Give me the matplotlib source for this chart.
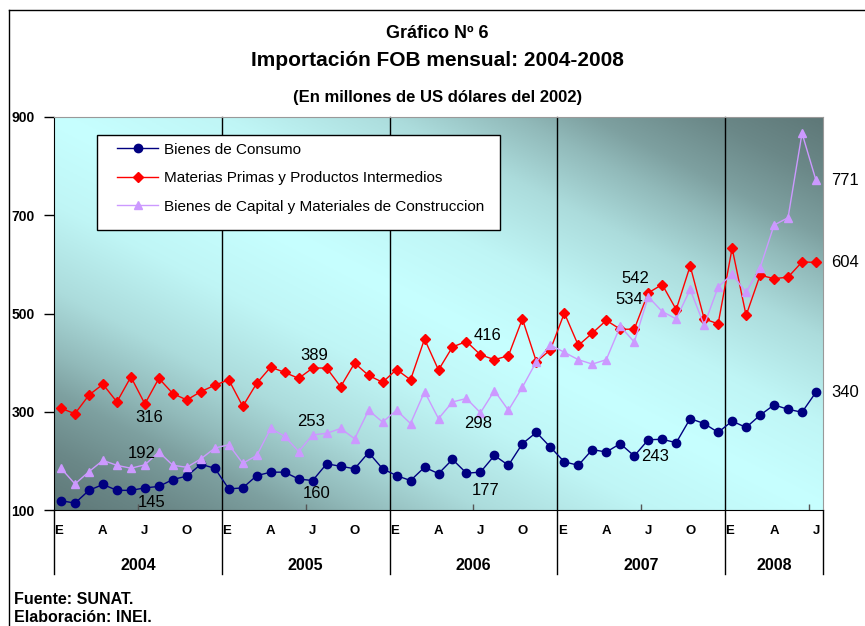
import matplotlib
matplotlib.use("Agg")
import matplotlib.pyplot as plt
import matplotlib.transforms as mtransforms
import numpy as np
from matplotlib.patches import Rectangle

plt.rcParams["font.family"] = ["Liberation Sans", "DejaVu Sans"]

# months shown per year (2008 ends in July)
years = ["2004", "2005", "2006", "2007", "2008"]
months_per_year = [12, 12, 12, 12, 7]
month_letters = {0: "E", 3: "A", 6: "J", 9: "O"}  # enero, abril, julio, octubre

# millones de US$ de 2002, enero 2004 - julio 2008
consumo = [119, 114, 140, 152, 140, 140, 145, 148, 162, 169, 193, 185,
           143, 145, 170, 177, 177, 163, 160, 194, 189, 184, 217, 184,
           170, 160, 187, 174, 203, 175, 177, 211, 191, 235, 258, 228,
           198, 191, 223, 218, 235, 210, 243, 244, 237, 286, 276, 258,
           281, 268, 293, 314, 305, 299, 340]
materias = [307, 296, 334, 356, 320, 371, 316, 368, 337, 324, 341, 354,
            365, 311, 358, 391, 380, 368, 389, 389, 351, 399, 374, 360,
            386, 365, 448, 385, 432, 443, 416, 406, 414, 489, 402, 426,
            501, 435, 460, 486, 468, 468, 542, 559, 508, 597, 489, 479,
            633, 496, 578, 571, 574, 605, 604]
capital = [185, 153, 178, 201, 191, 185, 192, 218, 191, 187, 204, 226,
           233, 195, 211, 266, 250, 219, 253, 256, 266, 245, 303, 279,
           303, 276, 341, 286, 320, 327, 298, 343, 303, 350, 402, 436,
           421, 406, 397, 406, 474, 442, 534, 504, 489, 549, 476, 554,
           580, 543, 593, 680, 695, 867, 771]

series_names = ["Bienes de Consumo",
                "Materias Primas y Productos Intermedios",
                "Bienes de Capital y Materiales de Construccion"]

# julio de cada año lleva etiqueta de valor
label_idx = [6, 18, 30, 42, 54]

W, H = 865, 626
fig = plt.figure(figsize=(W / 100, H / 100), dpi=100)
ax = fig.add_axes([54 / W, 1 - 510 / H, 769 / W, 393 / H])

# diagonal gradient background like the Excel fill (bright band along the diagonal)
u = np.linspace(0, 1, 400)
v = np.linspace(1, 0, 200)
U, V = np.meshgrid(u, v)
d = np.clip(np.abs(U + V - 1), 0, 1)
g = np.interp(d, [0, 0.22, 0.44, 0.6, 0.7, 0.85, 1], [0, 0.07, 0.26, 0.51, 0.70, 0.88, 1])
bright = np.array([0.78, 1.0, 1.0])
dark = np.array([0.37, 0.47, 0.47])
img = bright + (dark - bright) * g[..., None]
ax.imshow(img, extent=[0, 1, 0, 1], transform=ax.transAxes, aspect="auto", zorder=0)

x = np.arange(len(consumo))
l1, = ax.plot(x, consumo, color="#000080", marker="o", ms=6, lw=1, zorder=3)
l2, = ax.plot(x, materias, color="#FF0000", marker="D", ms=5.5, lw=1, zorder=3)
l3, = ax.plot(x, capital, color="#CC99FF", marker="^", ms=6, lw=1, zorder=3)

ax.set_xlim(-0.5, len(consumo) - 0.5)
ax.set_ylim(100, 900)
ax.set_yticks([100, 300, 500, 700, 900])
ax.tick_params(axis="y", direction="out", length=7, width=1, labelsize=10, pad=7)
for lbl in ax.get_yticklabels():
    lbl.set_fontweight("bold")

bounds = np.cumsum([0] + months_per_year) - 0.5
ax.set_xticks((bounds[:-1] + 6)[:5])
ax.tick_params(axis="x", direction="in", length=4, width=1, color="#555555", labelbottom=False)

for side in ["top", "right"]:
    ax.spines[side].set_color("#999999")

trans = mtransforms.blended_transform_factory(ax.transData, ax.transAxes)
for b in bounds:
    if b in (bounds[0], bounds[-1]):
        ax.plot([b, b], [-0.163, 0], transform=trans, color="black", lw=1, clip_on=False)
    else:
        ax.plot([b, b], [-0.163, 1], transform=trans, color="black", lw=1, clip_on=False, zorder=2)

# category labels: month letters and years
for i, yr in enumerate(years):
    start = bounds[i] + 0.5
    for k, letter in month_letters.items():
        if k < months_per_year[i]:
            xpos = start + k - (0.15 if k == 0 else 0)
            ax.text(xpos, -0.054, letter, transform=trans, ha="center", va="center",
                    fontsize=9.5, fontweight="bold")
    ax.text((bounds[i] + bounds[i + 1]) / 2, -0.140, yr, transform=trans,
            ha="center", va="center", fontsize=11.5, fontweight="bold")

# value labels (offsets in pixels)
offsets = {
    "c": [(7, -15), (4, -13), (5, -18), (7, -17), (29, 0)],
    "m": [(4, -14), (2, 13), (7, 19), (-13, 14), (29, 0)],
    "k": [(-3, 11), (-2, 13), (-2, -11), (-19, -3), (29, 0)],
}
for key, vals in [("c", consumo), ("m", materias), ("k", capital)]:
    for i, off in zip(label_idx, offsets[key]):
        ax.annotate(str(vals[i]), (i, vals[i]), xytext=off, textcoords="offset pixels",
                    ha="center", va="center", fontsize=12, annotation_clip=False, zorder=6)

# legend box
ax.add_patch(Rectangle((0.056, 0.712), 0.524, 0.242, transform=ax.transAxes,
                       facecolor="white", edgecolor="black", lw=1, zorder=4))
leg = ax.legend([l1, l2, l3], series_names, loc="upper left", bbox_to_anchor=(0.0819, 0.935),
                borderaxespad=0, borderpad=0, frameon=False, fontsize=11, handlelength=2.7,
                handletextpad=0.35, labelspacing=0.95)
leg.set_zorder(5)

# titles
fig.text(0.506, 1 - 38 / H, "Gráfico Nº 6", ha="center", va="baseline", fontsize=13, fontweight="bold")
fig.text(0.506, 1 - 66 / H, "Importación FOB mensual: 2004-2008", ha="center", va="baseline",
         fontsize=15, fontweight="bold")
fig.text(0.506, 1 - 102 / H, "(En millones de US dólares del 2002)", ha="center", va="baseline",
         fontsize=12, fontweight="bold")

fig.text(14 / W, 1 - 600 / H, "Fuente: SUNAT.", ha="left", va="center", fontsize=11.5, fontweight="bold")
fig.text(14 / W, 1 - 617 / H, "Elaboración: INEI.", ha="left", va="center", fontsize=11.5, fontweight="bold")

# outer frame (top and left edges)
fig.add_artist(plt.Line2D([9 / W, 9 / W], [0, 1 - 10 / H], color="black", lw=1))
fig.add_artist(plt.Line2D([9 / W, 1], [1 - 10 / H, 1 - 10 / H], color="black", lw=1))

fig.savefig("out.png", dpi=100)
